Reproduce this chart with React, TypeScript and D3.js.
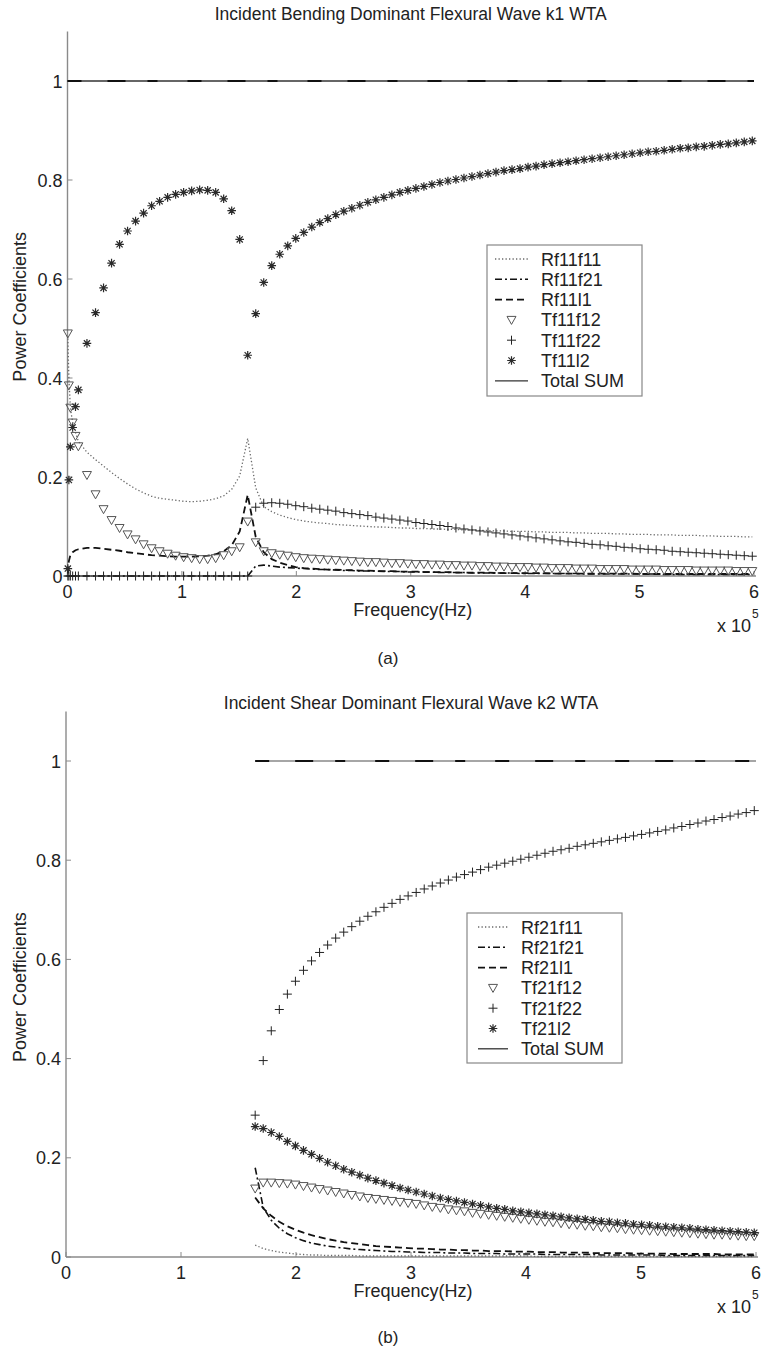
import * as d3 from "d3";

const FONT = "'Liberation Sans', Arial, Helvetica, sans-serif";

// frequency grid, units of 1e5 Hz
const freq = [
  0.003, 0.012, 0.025, 0.045, 0.07, 0.095, 0.17, 0.245, 0.315, 0.385,
  0.455, 0.525, 0.595, 0.665, 0.735, 0.805, 0.875, 0.945, 1.015, 1.085,
  1.155, 1.225, 1.295, 1.365, 1.435, 1.505, 1.575, 1.645, 1.715, 1.785,
  1.855, 1.925, 1.995, 2.065, 2.135, 2.205, 2.275, 2.345, 2.415, 2.485,
  2.555, 2.625, 2.695, 2.765, 2.835, 2.905, 2.975, 3.045, 3.115, 3.185,
  3.255, 3.325, 3.395, 3.465, 3.535, 3.605, 3.675, 3.745, 3.815, 3.885,
  3.955, 4.025, 4.095, 4.165, 4.235, 4.305, 4.375, 4.445, 4.515, 4.585,
  4.655, 4.725, 4.795, 4.865, 4.935, 5.005, 5.075, 5.145, 5.215, 5.285,
  5.355, 5.425, 5.495, 5.565, 5.635, 5.705, 5.775, 5.845, 5.915, 5.985,
];

// (a) incident k1
const rf11f11 = [
  0.48, 0.40, 0.34, 0.31, 0.29, 0.272, 0.25, 0.235, 0.222, 0.209,
  0.197, 0.186, 0.176, 0.168, 0.161, 0.157, 0.155, 0.153, 0.151, 0.150,
  0.151, 0.153, 0.156, 0.162, 0.175, 0.202, 0.278, 0.178, 0.140, 0.130,
  0.123, 0.118, 0.114, 0.111, 0.109, 0.107, 0.106, 0.104, 0.103, 0.102,
  0.101, 0.100, 0.099, 0.099, 0.098, 0.097, 0.097, 0.096, 0.096, 0.095,
  0.095, 0.094, 0.094, 0.093, 0.093, 0.092, 0.092, 0.091, 0.091, 0.090,
  0.090, 0.090, 0.089, 0.089, 0.088, 0.088, 0.088, 0.087, 0.087, 0.086,
  0.086, 0.086, 0.085, 0.085, 0.084, 0.084, 0.084, 0.083, 0.083, 0.083,
  0.082, 0.082, 0.082, 0.081, 0.081, 0.080, 0.080, 0.080, 0.079, 0.079,
];
const rf11f21 = [
  0, 0, 0, 0, 0, 0, 0, 0, 0, 0,
  0, 0, 0, 0, 0, 0, 0, 0, 0, 0,
  0, 0, 0, 0, 0, 0, 0, 0.020, 0.022, 0.020,
  0.018, 0.017, 0.016, 0.015, 0.014, 0.013, 0.013, 0.012, 0.011, 0.011,
  0.010, 0.010, 0.010, 0.009, 0.009, 0.009, 0.008, 0.008, 0.008, 0.008,
  0.007, 0.007, 0.007, 0.007, 0.006, 0.006, 0.006, 0.006, 0.006, 0.006,
  0.005, 0.005, 0.005, 0.005, 0.005, 0.005, 0.005, 0.005, 0.004, 0.004,
  0.004, 0.004, 0.004, 0.004, 0.004, 0.004, 0.004, 0.004, 0.003, 0.003,
  0.003, 0.003, 0.003, 0.003, 0.003, 0.003, 0.003, 0.003, 0.003, 0.003,
];
const rf11l1 = [
  0.005, 0.030, 0.042, 0.048, 0.052, 0.054, 0.057, 0.057, 0.055, 0.053,
  0.051, 0.048, 0.046, 0.044, 0.042, 0.041, 0.040, 0.039, 0.039, 0.039,
  0.040, 0.041, 0.044, 0.050, 0.062, 0.090, 0.164, 0.079, 0.048, 0.034,
  0.027, 0.022, 0.018, 0.016, 0.015, 0.014, 0.013, 0.013, 0.012, 0.012,
  0.011, 0.011, 0.010, 0.010, 0.010, 0.009, 0.009, 0.009, 0.008, 0.008,
  0.008, 0.008, 0.007, 0.007, 0.007, 0.007, 0.007, 0.006, 0.006, 0.006,
  0.006, 0.006, 0.006, 0.006, 0.005, 0.005, 0.005, 0.005, 0.005, 0.005,
  0.005, 0.005, 0.005, 0.005, 0.005, 0.004, 0.004, 0.004, 0.004, 0.004,
  0.004, 0.004, 0.004, 0.004, 0.004, 0.004, 0.004, 0.004, 0.004, 0.004,
];
const tf11f12 = [
  0.490, 0.385, 0.340, 0.310, 0.283, 0.262, 0.204, 0.165, 0.135, 0.113,
  0.097, 0.084, 0.074, 0.064, 0.056, 0.050, 0.045, 0.041, 0.038, 0.036,
  0.034, 0.034, 0.036, 0.042, 0.050, 0.058, 0.110, 0.068, 0.050, 0.046,
  0.043, 0.041, 0.038, 0.036, 0.035, 0.034, 0.033, 0.032, 0.031, 0.030,
  0.029, 0.028, 0.028, 0.027, 0.026, 0.026, 0.025, 0.024, 0.024, 0.023,
  0.023, 0.022, 0.022, 0.021, 0.021, 0.020, 0.020, 0.019, 0.019, 0.018,
  0.018, 0.018, 0.017, 0.017, 0.016, 0.016, 0.016, 0.015, 0.015, 0.015,
  0.014, 0.014, 0.014, 0.014, 0.013, 0.013, 0.013, 0.013, 0.012, 0.012,
  0.012, 0.012, 0.011, 0.011, 0.011, 0.011, 0.011, 0.010, 0.010, 0.010,
];
const tf11f22 = [
  0, 0, 0, 0, 0, 0, 0, 0, 0, 0,
  0, 0, 0, 0, 0, 0, 0, 0, 0, 0,
  0, 0, 0, 0, 0, 0, 0, 0.139, 0.147, 0.148,
  0.147, 0.145, 0.142, 0.140, 0.137, 0.135, 0.133, 0.131, 0.128, 0.126,
  0.124, 0.122, 0.119, 0.117, 0.115, 0.113, 0.111, 0.108, 0.106, 0.104,
  0.102, 0.100, 0.097, 0.095, 0.093, 0.091, 0.089, 0.087, 0.085, 0.083,
  0.081, 0.079, 0.077, 0.075, 0.073, 0.071, 0.069, 0.068, 0.066, 0.064,
  0.063, 0.061, 0.060, 0.058, 0.057, 0.055, 0.054, 0.053, 0.052, 0.050,
  0.049, 0.048, 0.047, 0.046, 0.045, 0.044, 0.043, 0.042, 0.041, 0.040,
];
const tf11l2 = [
  0.015, 0.194, 0.261, 0.300, 0.342, 0.376, 0.470, 0.532, 0.582, 0.632,
  0.670, 0.697, 0.717, 0.733, 0.748, 0.757, 0.765, 0.771, 0.775, 0.778,
  0.780, 0.779, 0.775, 0.762, 0.738, 0.680, 0.446, 0.530, 0.593, 0.627,
  0.650, 0.667, 0.682, 0.694, 0.705, 0.714, 0.722, 0.730, 0.737, 0.743,
  0.749, 0.755, 0.760, 0.765, 0.770, 0.775, 0.779, 0.783, 0.787, 0.791,
  0.795, 0.798, 0.801, 0.804, 0.807, 0.810, 0.813, 0.816, 0.819, 0.821,
  0.823, 0.826, 0.828, 0.831, 0.833, 0.835, 0.837, 0.839, 0.841, 0.843,
  0.845, 0.847, 0.849, 0.851, 0.853, 0.855, 0.857, 0.858, 0.860, 0.862,
  0.864, 0.865, 0.867, 0.868, 0.870, 0.872, 0.873, 0.875, 0.877, 0.879,
];
const sumFreqK1 = [0, 6];
const sumK1 = [1, 1];

// (b) incident k2, cut-on near 1.6e5 Hz
const freqK2 = freq.slice(27);
const rf21f11 = [
  0.024, 0.017, 0.013, 0.010, 0.008, 0.006, 0.005, 0.004, 0.004, 0.003,
  0.003, 0.003, 0.003, 0.002, 0.002, 0.002, 0.002, 0.002, 0.002, 0.002,
  0.002, 0.002, 0.002, 0.002, 0.002, 0.002, 0.002, 0.002, 0.002, 0.002,
  0.002, 0.002, 0.002, 0.002, 0.002, 0.001, 0.001, 0.001, 0.001, 0.001,
  0.001, 0.001, 0.001, 0.001, 0.001, 0.001, 0.001, 0.001, 0.001, 0.001,
  0.001, 0.001, 0.001, 0.001, 0.001, 0.001, 0.001, 0.001, 0.001, 0.001,
  0.001, 0.001, 0.001,
];
const rf21f21 = [
  0.180, 0.100, 0.074, 0.058, 0.047, 0.039, 0.033, 0.028, 0.025, 0.022,
  0.020, 0.018, 0.016, 0.015, 0.014, 0.013, 0.012, 0.011, 0.011, 0.010,
  0.010, 0.009, 0.009, 0.009, 0.008, 0.008, 0.008, 0.007, 0.007, 0.007,
  0.007, 0.006, 0.006, 0.006, 0.006, 0.006, 0.005, 0.005, 0.005, 0.005,
  0.005, 0.005, 0.005, 0.004, 0.004, 0.004, 0.004, 0.004, 0.004, 0.004,
  0.004, 0.003, 0.003, 0.003, 0.003, 0.003, 0.003, 0.003, 0.003, 0.003,
  0.003, 0.003, 0.003,
];
const rf21l1 = [
  0.120, 0.098, 0.083, 0.071, 0.062, 0.055, 0.049, 0.044, 0.040, 0.036,
  0.033, 0.030, 0.028, 0.026, 0.024, 0.022, 0.021, 0.020, 0.019, 0.018,
  0.017, 0.017, 0.016, 0.015, 0.015, 0.014, 0.014, 0.013, 0.013, 0.012,
  0.012, 0.012, 0.011, 0.011, 0.011, 0.010, 0.010, 0.010, 0.009, 0.009,
  0.009, 0.009, 0.008, 0.008, 0.008, 0.008, 0.008, 0.007, 0.007, 0.007,
  0.007, 0.007, 0.006, 0.006, 0.006, 0.006, 0.006, 0.006, 0.005, 0.005,
  0.005, 0.005, 0.005,
];
const tf21f12 = [
  0.138, 0.150, 0.150, 0.149, 0.148, 0.146, 0.143, 0.140, 0.137, 0.134,
  0.131, 0.128, 0.125, 0.122, 0.119, 0.117, 0.115, 0.113, 0.111, 0.109,
  0.107, 0.104, 0.101, 0.099, 0.096, 0.094, 0.092, 0.089, 0.087, 0.085,
  0.083, 0.081, 0.079, 0.077, 0.075, 0.073, 0.071, 0.070, 0.068, 0.066,
  0.065, 0.063, 0.062, 0.060, 0.059, 0.058, 0.056, 0.055, 0.054, 0.053,
  0.052, 0.051, 0.050, 0.049, 0.048, 0.047, 0.046, 0.045, 0.045, 0.044,
  0.043, 0.042, 0.042,
];
const tf21f22 = [
  0.286, 0.396, 0.456, 0.499, 0.530, 0.556, 0.578, 0.597, 0.614, 0.629,
  0.643, 0.655, 0.666, 0.677, 0.687, 0.696, 0.705, 0.713, 0.721, 0.728,
  0.735, 0.742, 0.748, 0.754, 0.760, 0.766, 0.771, 0.776, 0.781, 0.786,
  0.790, 0.794, 0.798, 0.802, 0.806, 0.810, 0.814, 0.818, 0.821, 0.824,
  0.828, 0.831, 0.834, 0.837, 0.840, 0.843, 0.846, 0.849, 0.852, 0.855,
  0.858, 0.861, 0.865, 0.868, 0.872, 0.875, 0.879, 0.882, 0.886, 0.889,
  0.893, 0.896, 0.900,
];
const tf21l2 = [
  0.263, 0.259, 0.251, 0.243, 0.233, 0.224, 0.215, 0.207, 0.199, 0.191,
  0.184, 0.177, 0.171, 0.165, 0.159, 0.154, 0.149, 0.144, 0.139, 0.135,
  0.131, 0.127, 0.123, 0.119, 0.116, 0.113, 0.110, 0.107, 0.104, 0.101,
  0.098, 0.096, 0.093, 0.091, 0.089, 0.087, 0.085, 0.083, 0.081, 0.079,
  0.077, 0.076, 0.074, 0.072, 0.071, 0.069, 0.068, 0.066, 0.065, 0.064,
  0.062, 0.061, 0.060, 0.059, 0.058, 0.056, 0.055, 0.054, 0.053, 0.052,
  0.051, 0.050, 0.049,
];
const sumFreqK2 = [1.645, 6];
const sumK2 = [1, 1];

const xTicks = [0, 1, 2, 3, 4, 5, 6];
const yTicks = [0, 0.2, 0.4, 0.6, 0.8, 1];
const legendK1 = ["Rf11f11", "Rf11f21", "Rf11l1", "Tf11f12", "Tf11f22", "Tf11l2", "Total SUM"];
const legendK2 = ["Rf21f11", "Rf21f21", "Rf21l1", "Tf21f12", "Tf21f22", "Tf21l2", "Total SUM"];
const kinds = ["dot", "dashdot", "dash", "tri", "plus", "star", "solid"];

const lineStyle: Record<string, any> = {
  dot: { stroke: "#6a6a6a", strokeWidth: 1.3, strokeDasharray: "1.3 2.2" },
  dashdot: { stroke: "#111", strokeWidth: 1.6, strokeDasharray: "7 3 2 3" },
  dash: { stroke: "#111", strokeWidth: 1.8, strokeDasharray: "7 4" },
  solid: { stroke: "#333", strokeWidth: 1.3 },
};

function marker(kind: string, x: number, y: number, key: any) {
  if (kind === "tri") {
    return (
      <path key={key} d={`M${x - 4.5},${y - 3.5}L${x + 4.5},${y - 3.5}L${x},${y + 4.5}Z`}
        fill="none" stroke="#555" strokeWidth={1} />
    );
  }
  if (kind === "plus") {
    return (
      <path key={key} d={`M${x - 4.5},${y}H${x + 4.5}M${x},${y - 4.5}V${y + 4.5}`}
        stroke="#222" strokeWidth={1} />
    );
  }
  const r = 4.3, d = 3.1;
  return (
    <path key={key}
      d={`M${x - r},${y}H${x + r}M${x},${y - r}V${y + r}M${x - d},${y - d}L${x + d},${y + d}M${x - d},${y + d}L${x + d},${y - d}`}
      stroke="#2a2a2a" strokeWidth={1.2} />
  );
}

function Panel(props: any) {
  const { px0, px1, py0, title, titleY, series, labels, legend, tag, tagY, sumFreq, sumVals, sumColor } = props;
  const x = d3.scaleLinear().domain([0, 6]).range([px0, px1]);
  const yTopPx = py0 - 1.1 * props.ppu;
  const y = d3.scaleLinear().domain([0, 1.1]).range([py0, yTopPx]);
  const line = d3.line<[number, number]>().x((d) => x(d[0])).y((d) => y(d[1]));
  const cx = (px0 + px1) / 2;
  const sumPath = line(sumFreq.map((f: number, i: number) => [f, sumVals[i]]));

  return (
    <g>
      <text x={cx} y={titleY} textAnchor="middle" fontSize={17.5} fill="#222">{title}</text>
      {/* axes */}
      <line x1={px0} x2={px0} y1={py0} y2={yTopPx} stroke="#8a8a8a" strokeWidth={1.4} />
      <line x1={px0} x2={px1 + 2} y1={py0} y2={py0} stroke="#8a8a8a" strokeWidth={1.4} />
      {yTicks.map((t) => (
        <g key={"y" + t}>
          <line x1={px0} x2={px0 + 5} y1={y(t)} y2={y(t)} stroke="#8a8a8a" strokeWidth={1} />
          <text x={px0 - 5} y={y(t) + 6.5} textAnchor="end" fontSize={18} fill="#222">{d3.format("~g")(t)}</text>
        </g>
      ))}
      {xTicks.map((t) => (
        <g key={"x" + t}>
          <line x1={x(t)} x2={x(t)} y1={py0} y2={py0 - 5} stroke="#8a8a8a" strokeWidth={1} />
          <text x={x(t)} y={py0 + 22} textAnchor="middle" fontSize={18} fill="#222">{t}</text>
        </g>
      ))}
      <text x={cx + 2} y={py0 + 40} textAnchor="middle" fontSize={18} fill="#222">Frequency(Hz)</text>
      <text x={717} y={py0 + 56} fontSize={18} fill="#222">x 10</text>
      <text x={752} y={py0 + 42} fontSize={12} fill="#222">5</text>
      <text transform={`translate(26,${(py0 + yTopPx) / 2 + 3}) rotate(-90)`} textAnchor="middle" fontSize={18} fill="#222">
        Power Coefficients
      </text>

      {/* curves */}
      {series.map((s: any, i: number) => {
        const pts: [number, number][] = s.freq.map((f: number, j: number) => [f, s.values[j]]);
        if (lineStyle[s.kind]) {
          return <path key={i} d={line(pts) || ""} fill="none" {...lineStyle[s.kind]} />;
        }
        return <g key={i}>{pts.map((p, j) => marker(s.kind, x(p[0]), y(p[1]), j))}</g>;
      })}
      <path d={sumPath || ""} fill="none" stroke={sumColor} strokeWidth={1.4} />
      <path d={sumPath || ""} fill="none" stroke="#111" strokeWidth={2} strokeDasharray="14 26 18 22 10 30" />

      {/* legend */}
      <rect x={legend.x} y={legend.y} width={legend.w} height={legend.h} fill="#fff" stroke="#888" strokeWidth={1.2} />
      {labels.map((lab: string, i: number) => {
        const ry = legend.y + 14 + i * 20.3;
        const kind = kinds[i];
        const mx = (legend.s0 + legend.s1) / 2;
        return (
          <g key={lab}>
            {lineStyle[kind]
              ? <line x1={legend.s0} x2={legend.s1} y1={ry} y2={ry} {...lineStyle[kind]} />
              : marker(kind, mx, ry, "m")}
            <text x={legend.tx} y={ry + 6.5} fontSize={18} fill="#222">{lab}</text>
          </g>
        );
      })}
      <text x={388} y={tagY} textAnchor="middle" fontSize={17} fill="#222">{tag}</text>
    </g>
  );
}

export default function App() {
  const seriesK1 = [rf11f11, rf11f21, rf11l1, tf11f12, tf11f22, tf11l2].map((v, i) => ({ kind: kinds[i], freq, values: v }));
  const seriesK2 = [rf21f11, rf21f21, rf21l1, tf21f12, tf21f22, tf21l2].map((v, i) => ({ kind: kinds[i], freq: freqK2, values: v }));
  return (
    <div style={{ position: "absolute", left: 0, top: 0 }}>
      <svg width={761} height={1351} style={{ display: "block", background: "#fff", fontFamily: FONT }}>
        <Panel px0={67.5} px1={754} py0={576} ppu={495}
          title="Incident Bending Dominant Flexural Wave k1 WTA" titleY={20}
          series={seriesK1} labels={legendK1}
          legend={{ x: 487, y: 245, w: 155, h: 151, s0: 495, s1: 528, tx: 541 }}
          tag="(a)" tagY={664} sumFreq={sumFreqK1} sumVals={sumK1} sumColor="#333" />
        <Panel px0={66} px1={756} py0={1257} ppu={496}
          title="Incident Shear Dominant Flexural Wave k2 WTA" titleY={709}
          series={seriesK2} labels={legendK2}
          legend={{ x: 467, y: 913, w: 155, h: 150, s0: 478, s1: 508, tx: 521 }}
          tag="(b)" tagY={1343} sumFreq={sumFreqK2} sumVals={sumK2} sumColor="#888" />
      </svg>
    </div>
  );
}
